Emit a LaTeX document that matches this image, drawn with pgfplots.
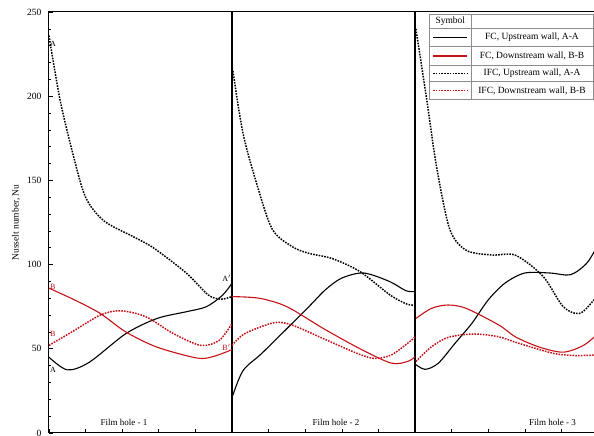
\documentclass[border=0pt]{standalone}
\usepackage{pgfplots}
\pgfplotsset{compat=1.18}
\usepackage{fontspec}
\setmainfont{Liberation Serif}
\definecolor{myred}{RGB}{196,18,24}
\begin{document}
\begin{tikzpicture}
\begin{axis}[
 at={(0pt,0pt)}, anchor=south west,
 scale only axis, width=549pt, height=421pt,
 xmin=0, xmax=3, ymin=0, ymax=250,
 xtick={0,0.2,0.4,0.6,0.8,1,1.2,1.4,1.6,1.8,2,2.2,2.4,2.6,2.8,3},
 xticklabels={},
 ytick={0,50,100,150,200,250}, minor y tick num=4,
 tick align=inside, tick pos=left,
 major tick length=4pt, minor tick length=2.5pt,
 axis line style={line width=1pt},
 every tick/.style={black, line width=0.6pt},
 ylabel={Nusselt number, Nu},
 ylabel style={font=\fontsize{9.5}{11}\selectfont, at={(axis description cs:-0.06,0.5)}, anchor=center},
 yticklabel style={font=\fontsize{9.5}{11}\selectfont, xshift=-4pt},
 /pgf/number format/assume math mode=true,
 extra x ticks={1,2}, extra x tick labels={},
 extra x tick style={grid=major, major grid style={black, line width=1.3pt}},
]
% ---- FC upstream (black solid)
\addplot[black, line width=1.1pt, smooth] coordinates {(0,45) (0.1,37.5) (0.22,42) (0.42,59) (0.59,68) (0.75,72) (0.86,75) (0.95,82) (1.0,89)};
\addplot[black, line width=1.1pt, smooth] coordinates {(1.0,21) (1.06,37) (1.16,47) (1.3,62) (1.42,75) (1.51,85) (1.6,92) (1.72,95) (1.86,90) (1.95,84.5) (2.0,84)};
\addplot[black, line width=1.1pt, smooth] coordinates {(2.0,41) (2.055,37.8) (2.127,41.4) (2.219,53.3) (2.31,65) (2.4,79) (2.492,89) (2.6,95) (2.74,95) (2.85,94) (2.94,101) (3.0,112)};
% ---- IFC upstream (black dotted)
\addplot[black, line width=1.5pt, dash pattern=on 1.6pt off 1.2pt, smooth] coordinates {(0,236) (0.06,198) (0.13,166) (0.2,140) (0.3,126) (0.46,116.6) (0.57,110) (0.75,95) (0.87,82) (0.94,79.5) (1.0,81)};
\addplot[black, line width=1.5pt, dash pattern=on 1.6pt off 1.2pt, smooth] coordinates {(1.005,215) (1.06,178) (1.135,148) (1.22,121) (1.33,110.6) (1.42,106.7) (1.55,103.5) (1.7,95.8) (1.863,82) (1.955,76.6) (2.0,76)};
\addplot[black, line width=1.5pt, dash pattern=on 1.6pt off 1.2pt, smooth] coordinates {(2.005,240) (2.064,198) (2.118,158) (2.19,121) (2.28,108.5) (2.42,105.7) (2.55,105.5) (2.7,93) (2.81,75) (2.9,71) (2.978,79) (3.0,82)};
% ---- FC downstream (red solid)
\addplot[myred, line width=1.1pt, smooth] coordinates {(0,86) (0.14,79) (0.28,71) (0.42,60) (0.59,51) (0.81,44.5) (0.9,45.5) (1.0,49.5)};
\addplot[myred, line width=1.1pt, smooth] coordinates {(1.0,81) (1.15,80) (1.3,75) (1.5,62) (1.7,50) (1.87,41.5) (1.96,42.5) (2.0,45.3)};
\addplot[myred, line width=1.1pt, smooth] coordinates {(2.005,68) (2.09,74) (2.18,76) (2.28,74) (2.46,64) (2.55,57) (2.68,51) (2.81,48) (2.92,52) (3.0,59)};
% ---- IFC downstream (red dotted)
\addplot[myred, line width=1.5pt, dash pattern=on 1.6pt off 1.2pt, smooth] coordinates {(0,52) (0.14,61) (0.28,70) (0.39,72.6) (0.53,69) (0.68,59) (0.83,52) (0.93,55) (1.0,65)};
\addplot[myred, line width=1.5pt, dash pattern=on 1.6pt off 1.2pt, smooth] coordinates {(1.0,52) (1.07,59) (1.23,65.5) (1.33,64) (1.5,56) (1.69,47) (1.78,44.3) (1.87,46.3) (1.96,53.3) (2.0,57)};
\addplot[myred, line width=1.5pt, dash pattern=on 1.6pt off 1.2pt, smooth] coordinates {(2.005,42.5) (2.09,51.2) (2.182,56.8) (2.32,58.8) (2.455,57.2) (2.546,54) (2.65,50.5) (2.77,47) (2.88,46) (3.0,46.3)};
% ---- annotations
\node[font=\fontsize{8}{9}\selectfont, anchor=west, inner sep=0.5pt] at (axis cs:0.003,231) {A};
\node[font=\fontsize{8}{9}\selectfont, anchor=west, inner sep=0.5pt] at (axis cs:0.003,37.5) {A};
\node[font=\fontsize{8}{9}\selectfont, anchor=west, inner sep=0.5pt, text=myred] at (axis cs:0.003,87) {B};
\node[font=\fontsize{8}{9}\selectfont, anchor=west, inner sep=0.5pt, text=myred] at (axis cs:0.003,59) {B};
\node[font=\fontsize{8}{9}\selectfont, inner sep=0.5pt] at (axis cs:0.97,92) {A$'$};
\node[font=\fontsize{8}{9}\selectfont, inner sep=0.5pt, text=myred] at (axis cs:0.97,51) {B$'$};
\node[font=\fontsize{9}{10}\selectfont] at (axis cs:0.41,6.5) {Film hole - 1};
\node[font=\fontsize{9}{10}\selectfont] at (axis cs:1.568,6.5) {Film hole - 2};
\node[font=\fontsize{9}{10}\selectfont] at (axis cs:2.751,6.5) {Film hole - 3};
\end{axis}
% ---- legend table
\begin{scope}[x=1pt,y=1pt]
\fill[white] (380,333.7) rectangle (544,419);
\draw[black!45, line width=0.8pt] (380,333.7) rectangle (544,419);
\foreach \yy in {404.7,386.3,368,351.3} \draw[black!45, line width=0.8pt] (380,\yy) -- (544,\yy);
\draw[black!45, line width=0.8pt] (422.7,333.7) -- (422.7,419);
\node[font=\fontsize{9.5}{11}\selectfont] at (401.3,411.8) {Symbol};
\draw[black, line width=0.9pt] (384,395.5) -- (418,395.5);
\draw[myred, line width=1.5pt] (384,377.2) -- (418,377.2);
\draw[black, line width=1.4pt, dash pattern=on 1.6pt off 1.2pt] (384,359.6) -- (418,359.6);
\draw[myred, line width=1.4pt, dash pattern=on 1.6pt off 1.2pt] (384,342.5) -- (418,342.5);
\node[font=\fontsize{9.5}{11}\selectfont] at (483,395.5) {FC, Upstream wall, A-A};
\node[font=\fontsize{9.5}{11}\selectfont] at (483,377.2) {FC, Downstream wall, B-B};
\node[font=\fontsize{9.5}{11}\selectfont] at (483,359.6) {IFC, Upstream wall, A-A};
\node[font=\fontsize{9.5}{11}\selectfont] at (483,342.5) {IFC, Downstream wall, B-B};
\end{scope}
\pgfresetboundingbox
\useasboundingbox (-49pt,-3pt) rectangle (545pt,433pt);
\end{tikzpicture}
\end{document}
